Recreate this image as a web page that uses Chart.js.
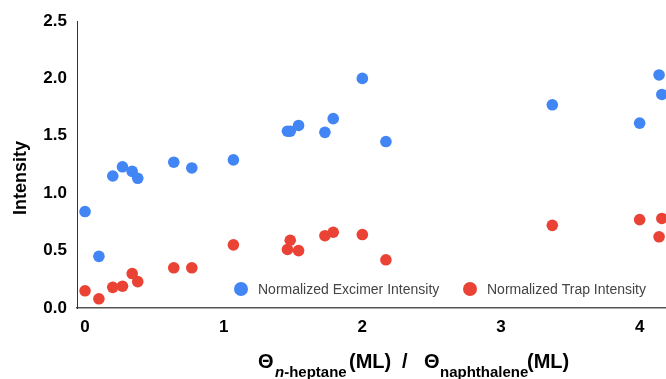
<!DOCTYPE html>
<html>
<head>
<meta charset="utf-8">
<script src="https://cdn.jsdelivr.net/npm/chart.js@4.4.0/dist/chart.umd.min.js"></script>
<style>
  html, body { margin: 0; padding: 0; background: #fff; }
  #chart { display: block; }
</style>
</head>
<body>
<canvas id="chart" width="666" height="379"></canvas>
<script>
// coverage ratio (x) shared by both series
var thetaRatio = [0, 0.10, 0.20, 0.27, 0.34, 0.38, 0.64, 0.77, 1.07, 1.46, 1.48, 1.54, 1.73, 1.79, 2.00, 2.17, 3.37, 4.00, 4.14, 4.16];
var excimerIntensity = [0.84, 0.45, 1.15, 1.23, 1.19, 1.13, 1.27, 1.22, 1.29, 1.54, 1.54, 1.59, 1.53, 1.65, 2.00, 1.45, 1.77, 1.61, 2.03, 1.86];
var trapIntensity = [0.15, 0.08, 0.18, 0.19, 0.30, 0.23, 0.35, 0.35, 0.55, 0.51, 0.59, 0.50, 0.63, 0.66, 0.64, 0.42, 0.72, 0.77, 0.62, 0.78];
var seriesNames = ["Normalized Excimer Intensity", "Normalized Trap Intensity"];
var seriesColors = ["#4285F4", "#EA4335"];
var xTicks = [0, 1, 2, 3, 4];
var yTicks = [0, 0.5, 1, 1.5, 2, 2.5];

var FONT = "'Liberation Sans', Arial, sans-serif";

function toPoints(xs, ys) {
    return xs.map(function(x, i) { return {x: x, y: ys[i]}; });
}

// axis titles (with subscripts) and the in-plot legend
var extras = {
    id: "extras",
    afterDraw: function(chart) {
        var ctx = chart.ctx;
        ctx.save();
        ctx.fillStyle = "#000";

        // y title
        ctx.save();
        ctx.translate(21, 178);
        ctx.rotate(-Math.PI / 2);
        ctx.font = "bold 18px " + FONT;
        ctx.textAlign = "center";
        ctx.textBaseline = "middle";
        ctx.fillText("Intensity", 0, 0);
        ctx.restore();

        // x title: Θ_{n-heptane}(ML) / Θ_{naphthalene}(ML)
        var big = "bold 20px " + FONT, sub = "bold 15px " + FONT;
        var parts = [
            {t: "\u0398", f: big, x: 258, dy: 0},
            {t: "n", f: "italic " + sub, x: 275, dy: 9},
            {t: "-heptane", f: sub, dy: 9},
            {t: "(ML)", f: big, x: 349, dy: 0},
            {t: "/", f: big, x: 402, dy: 0},
            {t: "\u0398", f: big, x: 424, dy: 0},
            {t: "naphthalene", f: sub, x: 440, dy: 9},
            {t: "(ML)", f: big, x: 527, dy: 0}
        ];
        var x = 0, base = 368;
        ctx.textAlign = "left";
        ctx.textBaseline = "alphabetic";
        parts.forEach(function(p) {
            ctx.font = p.f;
            if (p.x !== undefined) x = p.x;
            ctx.fillText(p.t, x, base + p.dy);
            x += ctx.measureText(p.t).width;
        });

        // legend
        var legendX = [241, 470];
        ctx.font = "14px " + FONT;
        ctx.textBaseline = "middle";
        chart.data.datasets.forEach(function(ds, i) {
            ctx.beginPath();
            ctx.fillStyle = ds.backgroundColor;
            ctx.arc(legendX[i], 289, 7, 0, Math.PI * 2);
            ctx.fill();
            ctx.fillStyle = "#444";
            ctx.fillText(ds.label, legendX[i] + 17, 290);
        });
        ctx.restore();
    }
};

new Chart(document.getElementById("chart"), {
    type: "scatter",
    data: {
        datasets: [
            {
                label: seriesNames[0],
                data: toPoints(thetaRatio, excimerIntensity),
                backgroundColor: seriesColors[0],
                borderColor: seriesColors[0],
                borderWidth: 0,
                pointRadius: 5.8
            },
            {
                label: seriesNames[1],
                data: toPoints(thetaRatio, trapIntensity),
                backgroundColor: seriesColors[1],
                borderColor: seriesColors[1],
                borderWidth: 0,
                pointRadius: 5.8
            }
        ]
    },
    options: {
        responsive: false,
        animation: false,
        layout: { autoPadding: false, padding: { top: 21, left: 0, right: 0, bottom: 0 } },
        plugins: {
            legend: { display: false },
            tooltip: { enabled: false }
        },
        scales: {
            x: {
                type: "linear",
                min: -0.058,
                max: 4.19,
                afterBuildTicks: function(scale) {
                    scale.ticks = xTicks.map(function(v) { return {value: v}; });
                },
                afterFit: function(scale) {
                    scale.height = 71;
                    scale.paddingLeft = 0;
                    scale.paddingRight = 0;
                },
                grid: { display: false, drawTicks: false },
                border: { display: true, color: "#555", width: 1.5 },
                ticks: {
                    padding: 9,
                    color: "#000",
                    font: { family: FONT, size: 17, weight: "bold" },
                    callback: function(v) { return String(v); }
                }
            },
            y: {
                min: 0,
                max: 2.5,
                afterBuildTicks: function(scale) {
                    scale.ticks = yTicks.map(function(v) { return {value: v}; });
                },
                afterFit: function(scale) { scale.width = 77; },
                grid: { display: false, drawTicks: false },
                border: { display: true, color: "#333", width: 1 },
                ticks: {
                    padding: 10,
                    color: "#000",
                    font: { family: FONT, size: 17, weight: "bold" },
                    callback: function(v) { return v.toFixed(1); }
                }
            }
        }
    },
    plugins: [extras]
});
</script>
</body>
</html>
